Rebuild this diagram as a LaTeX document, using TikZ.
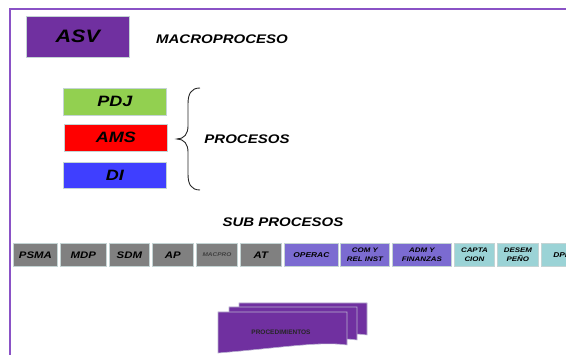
\documentclass[tikz,border=0pt]{standalone}
\usepackage{fontspec}
\setmainfont{Liberation Sans}
\newfontfamily\lab[FakeStretch=1.2]{Liberation Sans}
\definecolor{asvpurple}{HTML}{7030A0}
\definecolor{framecol}{HTML}{8A52C6}
\definecolor{pdjgreen}{HTML}{92D050}
\definecolor{amsred}{HTML}{FF0000}
\definecolor{diblue}{HTML}{3F3FFF}
\definecolor{subgray}{HTML}{808080}
\definecolor{subviolet}{HTML}{7B6BD1}
\definecolor{subcyan}{HTML}{9BD3D6}
\definecolor{boxedge}{HTML}{C4D4D4}
\definecolor{docedge}{HTML}{B8B0D0}
\newcommand{\pbox}[7]{\node[#6, anchor=north west, minimum width={#4pt-#2pt}, minimum height={#5pt-#3pt}] (#1) at (#2,#3) {#7};}
\tikzset{
  bigbox/.style={draw=boxedge, line width=0.6pt, inner sep=0pt, font=\lab\bfseries\itshape\fontsize{15}{17}\selectfont},
  subbox/.style={draw=boxedge, line width=0.8pt, inner sep=0pt, align=center},
  sublarge/.style={subbox, font=\lab\bfseries\itshape\fontsize{9.5}{11}\selectfont},
  subsmall/.style={subbox, font=\lab\bfseries\itshape\fontsize{6.6}{8.7}\selectfont},
  title/.style={font=\lab\bfseries\itshape\fontsize{12.5}{14}\selectfont},
  docpage/.style={fill=asvpurple, draw=docedge, line width=0.6pt},
  framelineA/.style={draw=framecol, line width=1.8pt}
}
\begin{document}
\begin{tikzpicture}[x=1pt,y=-1pt]
\useasboundingbox (0,0) rectangle (566,355);
% frame
\coordinate (ftl) at (10,9);
\coordinate (ftr) at (567,9);
\coordinate (fbl) at (10,356);
\draw[framelineA] (ftr) -- (ftl) -- (fbl);
% macro process
\pbox{asv}{26}{16}{129}{57}{bigbox, fill=asvpurple, font=\lab\bfseries\itshape\fontsize{18}{20}\selectfont}{ASV}
\node[title] (macro) at (222,39) {MACROPROCESO};
% processes
\pbox{pdj}{63}{88}{166}{115}{bigbox, fill=pdjgreen}{PDJ}
\pbox{ams}{64}{124}{167}{151}{bigbox, fill=amsred}{AMS}
\pbox{di}{63}{162}{166}{188}{bigbox, fill=diblue}{DI}
\coordinate (bt) at (200,88);
\coordinate (bm) at (177,139);
\coordinate (bb) at (200,190);
\draw[line width=0.9pt, black!85] (bt) .. controls (191,88) and (188,94) .. (188,104) -- (188,126)
  .. controls (188,134) and (184,139) .. (bm)
  .. controls (184,139) and (188,144) .. (188,152) -- (188,174)
  .. controls (188,184) and (191,190) .. (bb);
\node[title] (proc) at (247,139) {PROCESOS};
% sub processes
\node[title] (subp) at (283,222) {SUB PROCESOS};
\pbox{psma}{13}{243}{57}{266}{sublarge, fill=subgray}{PSMA}
\pbox{mdp}{60}{243}{106}{266}{sublarge, fill=subgray}{MDP}
\pbox{sdm}{109}{243}{149}{266}{sublarge, fill=subgray}{SDM}
\pbox{ap}{152}{243}{193}{266}{sublarge, fill=subgray}{AP}
\pbox{macpro}{196}{243}{237}{266}{subbox, fill=subgray, text=black!75, font=\lab\bfseries\itshape\fontsize{5.4}{6}\selectfont}{MACPRO}
\pbox{at}{240}{243}{281}{266}{sublarge, fill=subgray}{AT}
\pbox{operac}{284}{243}{338}{266}{subbox, fill=subviolet, font=\lab\bfseries\itshape\fontsize{7}{8}\selectfont}{OPERAC}
\pbox{comrel}{340}{243}{389}{266}{subsmall, fill=subviolet}{COM Y\\REL INST}
\pbox{admfin}{392}{243}{451}{266}{subsmall, fill=subviolet}{ADM Y\\FINANZAS}
\pbox{capta}{454}{243}{494}{266}{subsmall, fill=subcyan}{CAPTA\\CION}
\pbox{desem}{497}{243}{538}{266}{subsmall, fill=subcyan}{DESEM\\PEÑO}
\pbox{dpp}{541}{243}{582}{266}{subbox, fill=subcyan, font=\lab\bfseries\itshape\fontsize{7}{8}\selectfont}{DPP}
% procedures (stacked documents)
\filldraw[docpage] (239,303) -- (367,303) -- (367,335) .. controls (340,331) and (300,338) .. (239,342) -- cycle;
\filldraw[docpage] (229,307) -- (357,307) -- (357,340) .. controls (330,336) and (290,343) .. (229,347) -- cycle;
\filldraw[docpage] (218,312) -- (347,312) -- (347,345) .. controls (320,341) and (280,348) .. (218,353) -- cycle;
\node[font=\bfseries\fontsize{6.5}{7}\selectfont, text=black!85] (procd) at (281,332) {PROCEDIMIENTOS};
\end{tikzpicture}
\end{document}
